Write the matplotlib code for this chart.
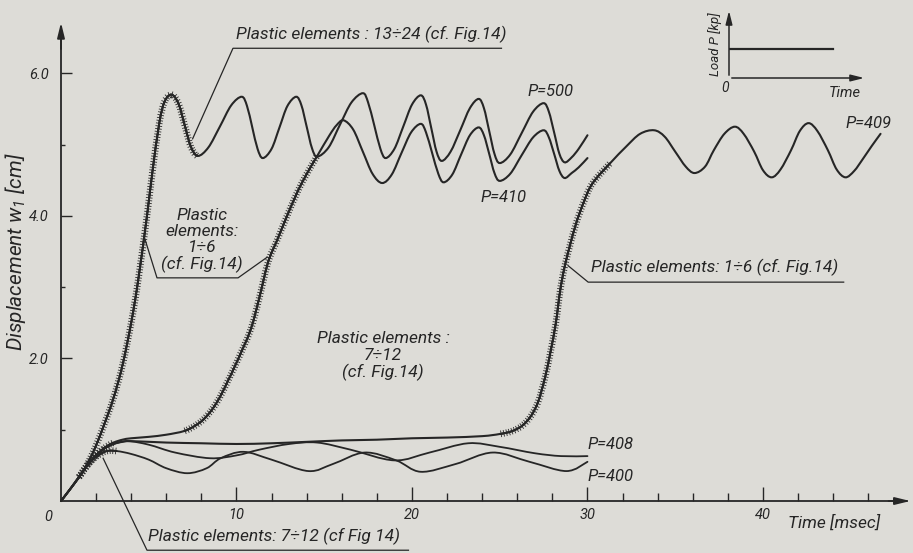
import matplotlib
matplotlib.use("Agg")
import matplotlib.pyplot as plt
import matplotlib.patheffects as pe
from matplotlib.path import Path
from matplotlib.patches import PathPatch
import numpy as np

plt.rcParams['font.family'] = ['Roboto', 'DejaVu Sans']
plt.rcParams['font.style'] = 'italic'
plt.rcParams['mathtext.fontset'] = 'custom'
plt.rcParams['mathtext.it'] = 'Roboto:italic'
plt.rcParams['mathtext.rm'] = 'Roboto'

########## data: time [msec], displacement w1 [cm] ##########

t500 = [0, 0.5, 1, 1.5, 2, 2.5, 3, 3.5, 4, 4.4, 4.9, 5.2, 5.6, 5.9, 6.3,
        6.7, 7.05, 7.4, 7.8, 8.4, 9.05, 9.7, 10.3, 10.6, 10.9, 11.2, 11.5,
        12.0, 12.45, 12.9, 13.4, 13.7, 14.0, 14.3, 14.6, 15.25, 15.9, 16.55, 17.2,
        17.5, 17.85, 18.2, 18.5, 19.0, 19.5, 20.0, 20.5, 20.8, 21.1, 21.4, 21.7,
        22.2, 22.75, 23.3, 23.8, 24.1, 24.4, 24.7, 25.0, 25.6, 26.25, 26.9, 27.5,
        27.8, 28.1, 28.4, 28.7, 29.1, 29.5, 30.0]
w500 = [0, 0.16, 0.33, 0.52, 0.78, 1.1, 1.45, 1.9, 2.5, 3.1, 4.0, 4.6, 5.3, 5.6, 5.7,
        5.57, 5.27, 4.97, 4.84, 4.96, 5.25, 5.55, 5.67, 5.54, 5.24, 4.94, 4.81,
        4.94, 5.24, 5.54, 5.67, 5.55, 5.25, 4.95, 4.83, 4.96, 5.28, 5.59, 5.72,
        5.59, 5.27, 4.94, 4.81, 4.94, 5.25, 5.56, 5.69, 5.56, 5.23, 4.9, 4.77,
        4.9, 5.2, 5.51, 5.64, 5.51, 5.19, 4.87, 4.74, 4.86, 5.16, 5.46, 5.58,
        5.46, 5.17, 4.87, 4.75, 4.82, 4.94, 5.13]

t410 = [0, 0.5, 1, 1.5, 2, 2.5, 3, 3.5, 4, 5, 6, 7, 7.6, 8.1, 8.6, 9.06, 9.5,
        10.0, 10.8, 11.3, 11.8, 12.3, 12.8, 13.5, 14.1, 14.6, 15.3, 15.7, 16.1,
        16.65, 17.2, 17.75, 18.3, 18.85, 19.4, 19.95, 20.5, 20.8, 21.15, 21.5, 21.8,
        22.3, 22.8, 23.3, 23.8, 24.1, 24.4, 24.7, 25.0, 25.6, 26.25, 26.9, 27.5,
        27.8, 28.1, 28.4, 28.7, 29.1, 29.5, 30.0]
w410 = [0, 0.16, 0.33, 0.5, 0.64, 0.75, 0.82, 0.86, 0.88, 0.9, 0.93, 0.98, 1.05, 1.14, 1.28, 1.46, 1.68,
        1.94, 2.4, 2.85, 3.35, 3.65, 3.95, 4.35, 4.63, 4.84, 5.13, 5.27, 5.34,
        5.21, 4.9, 4.59, 4.46, 4.58, 4.88, 5.17, 5.29, 5.17, 4.88, 4.59, 4.47,
        4.58, 4.86, 5.13, 5.24, 5.13, 4.87, 4.6, 4.49, 4.59, 4.85, 5.1, 5.2,
        5.1, 4.87, 4.63, 4.53, 4.6, 4.68, 4.81]

t409 = [0, 0.5, 1, 1.5, 2, 2.5, 3, 3.5, 4, 6, 8, 10, 12, 14, 16, 18, 20, 22, 24,
        25, 25.7, 26.3, 26.8, 27.2, 27.6, 27.9, 28.2, 28.45, 28.75, 29.3, 29.8, 30.3,
        31.3, 32.2, 33.0, 33.8, 34.4, 35.0, 35.6, 36.1, 36.7, 37.2, 37.8, 38.4,
        38.9, 39.5, 40.0, 40.5, 41.0, 41.6, 42.1, 42.6, 43.1, 43.7, 44.2, 44.7,
        45.2, 45.7, 46.2, 46.7]
w409 = [0, 0.16, 0.33, 0.5, 0.64, 0.74, 0.8, 0.83, 0.84, 0.82, 0.81, 0.8, 0.81, 0.83, 0.85, 0.86, 0.88, 0.89, 0.91,
        0.94, 0.98, 1.06, 1.2, 1.4, 1.75, 2.1, 2.5, 2.96, 3.34, 3.85, 4.2, 4.46,
        4.74, 4.97, 5.15, 5.2, 5.11, 4.9, 4.69, 4.6, 4.69, 4.92, 5.15, 5.25,
        5.15, 4.9, 4.64, 4.54, 4.65, 4.92, 5.19, 5.3, 5.19, 4.92, 4.65, 4.54,
        4.63, 4.8, 4.98, 5.15]

t408 = [0, 0.5, 1, 1.5, 2, 2.5, 3, 3.8, 5, 6.5, 8.5, 10, 11.3, 13, 14.6, 16.5, 19,
        21, 23.2, 25, 27, 28.5, 30]
w408 = [0, 0.16, 0.32, 0.5, 0.64, 0.74, 0.8, 0.84, 0.79, 0.68, 0.6, 0.64, 0.72, 0.8, 0.82, 0.72, 0.57,
        0.68, 0.81, 0.76, 0.67, 0.63, 0.63]

t400 = [0, 0.5, 1, 1.5, 2, 2.6, 3.2, 4, 5, 6, 7.2, 8.3, 9.1, 10.4, 12, 14.1, 15.5, 17.3,
        19.1, 20.5, 22.5, 24.6, 26.7, 28.8, 30]
w400 = [0, 0.16, 0.32, 0.5, 0.62, 0.7, 0.7, 0.66, 0.58, 0.46, 0.39, 0.46, 0.6, 0.69, 0.58, 0.42, 0.52, 0.68,
        0.57, 0.41, 0.52, 0.68, 0.55, 0.42, 0.55]

# inset: constant load
load_t = [0, 0.75]
load_p = [1, 1]

ink = '#262626'
paper = '#dddcd7'


# draw the read points as a smooth pen line (Catmull-Rom as cubic Bezier segments)
def pen_path(t, w, a=0, b=None):
    p = np.column_stack([t, w]).astype(float)
    n = len(p)
    if b is None:
        b = n - 1
    verts = [p[a]]
    codes = [Path.MOVETO]
    for i in range(a, b):
        p0 = p[max(i - 1, 0)]
        p1 = p[i]
        p2 = p[i + 1]
        p3 = p[min(i + 2, n - 1)]
        verts += [p1 + (p2 - p0) / 6, p2 - (p3 - p1) / 6, p2]
        codes += [Path.CURVE4] * 3
    return Path(verts, codes)


fig = plt.figure(figsize=(9.13, 5.53), dpi=100, facecolor=paper)
ax = fig.add_axes([0, 0, 1, 1], facecolor=paper)
ax.set_xlim(-3.476, 48.55)
ax.set_ylim(-0.729, 7.027)

# axes through the origin, ticks pointing inwards
for s in ['top', 'right']:
    ax.spines[s].set_visible(False)
ax.spines['left'].set_position(('data', 0))
ax.spines['bottom'].set_position(('data', 0))
ax.spines['left'].set_bounds(0, 6.6)
ax.spines['bottom'].set_bounds(0, 48.2)
for s in ['left', 'bottom']:
    ax.spines[s].set_color(ink)
    ax.spines[s].set_linewidth(1.3)
ax.annotate('', xy=(48.55, 0), xytext=(47.0, 0),
            arrowprops=dict(arrowstyle='-|>,head_length=0.9,head_width=0.22', color=ink, lw=1.3))
ax.annotate('', xy=(0, 6.75), xytext=(0, 6.3),
            arrowprops=dict(arrowstyle='-|>,head_length=0.9,head_width=0.22', color=ink, lw=1.3))

ax.set_xticks([10, 20, 30, 40])
ax.set_xticks([t for t in range(2, 48, 2) if t % 10], minor=True)
ax.set_yticks([2, 4, 6])
ax.set_yticklabels(['2.0', '4.0', '6.0'])
ax.set_yticks([1, 3, 5], minor=True)
ax.tick_params(axis='x', which='major', direction='in', length=10, width=1, colors=ink, pad=5, labelsize=10.5)
ax.tick_params(axis='x', which='minor', direction='in', length=6, width=1, colors=ink)
ax.tick_params(axis='y', which='major', direction='in', length=8, width=1, colors=ink, pad=9, labelsize=10.5)
ax.tick_params(axis='y', which='minor', direction='in', length=3, width=1, colors=ink)

ax.text(-0.75, -0.22, '0', fontsize=10.5, color=ink, ha='center', va='center')
ax.text(41.4, -0.31, 'Time [msec]', fontsize=12.5, color=ink, va='center')
ax.text(-2.62, 3.5, 'Displacement $w_1$ [cm]', fontsize=15, color=ink,
        rotation=90, ha='center', va='center')

# curves; "+" ticks mark the stretches where elements are plastic
crosses = [pe.withTickedStroke(angle=90, spacing=2.0, length=1.2, linewidth=0.6),
           pe.withTickedStroke(angle=-90, spacing=2.0, length=1.2, linewidth=0.6)]
lw = 1.5
for t, w, width in [(t500, w500, lw), (t410, w410, lw), (t409, w409, lw),
                    (t408, w408, 1.3), (t400, w400, 1.3)]:
    ax.add_patch(PathPatch(pen_path(t, w), fill=False, ec=ink, lw=width, capstyle='round'))

for t, w, a, b in [(t500, w500, 2, 18), (t410, w410, 2, 6), (t410, w410, 11, 25),
                   (t409, w409, 19, 32), (t400, w400, 3, 6), (t408, w408, 2, 5)]:
    ax.add_patch(PathPatch(pen_path(t, w, a, b), fill=False, ec=ink, lw=1.2,
                           path_effects=crosses))

# curve labels
lab = dict(fontsize=12, color=ink)
ax.text(26.6, 5.74, 'P=500', va='center', **lab)
ax.text(23.9, 4.26, 'P=410', va='center', **lab)
ax.text(44.7, 5.29, 'P=409', va='center', **lab)
ax.text(30.0, 0.79, 'P=408', va='center', **lab)
ax.text(30.0, 0.34, 'P=400', va='center', **lab)

# plastic zone notes with leader lines
note = dict(fontsize=12.5, color=ink)
lead = dict(color=ink, lw=0.9)
ax.text(10.0, 6.55, 'Plastic elements : 13÷24 (cf. Fig.14)', va='center', **note)
ax.plot([7.5, 9.8, 25.1], [5.08, 6.35, 6.35], **lead)

ax.text(8.05, 3.65, 'Plastic\nelements:\n1÷6\n(cf. Fig.14)', ha='center', va='center',
        linespacing=1.08, **note)
ax.plot([4.75, 5.47, 10.09, 11.75], [3.7, 3.13, 3.13, 3.42], **lead)

ax.text(18.35, 2.03, 'Plastic elements :\n7÷12\n(cf. Fig.14)', ha='center', va='center',
        linespacing=1.1, **note)

ax.text(30.2, 3.28, 'Plastic elements: 1÷6 (cf. Fig.14)', va='center', **note)
ax.plot([28.9, 30.04, 44.6], [3.3, 3.07, 3.07], **lead)

ax.text(4.96, -0.50, 'Plastic elements: 7÷12 (cf Fig 14)', va='center', **note)
ax.plot([2.4, 4.9, 19.8], [0.6, -0.69, -0.69], **lead)

# inset: load history
ins = fig.add_axes([729 / 913, (553 - 78) / 553, 138 / 913, 70 / 553], facecolor='none')
ins.set_xlim(0, 1)
ins.set_ylim(0, 2.4)
ins.plot(load_t, load_p, color=ink, lw=1.6)
for s in ['top', 'right', 'left', 'bottom']:
    ins.spines[s].set_visible(False)
ins.annotate('', xy=(1, 0), xytext=(0, 0),
             arrowprops=dict(arrowstyle='-|>,head_length=0.8,head_width=0.2', color=ink, lw=1.1))
ins.annotate('', xy=(0, 2.4), xytext=(0, 0),
             arrowprops=dict(arrowstyle='-|>,head_length=0.8,head_width=0.2', color=ink, lw=1.1))
ins.set_xticks([])
ins.set_yticks([])
ins.text(-0.03, -0.35, '0', fontsize=10, color=ink, ha='center', va='center')
ins.text(0.84, -0.5, 'Time', fontsize=10.5, color=ink, ha='center', va='center')
ins.text(-0.1, 1.15, 'Load P [kp]', fontsize=9.5, color=ink, rotation=90, ha='center', va='center')

fig.savefig('out.png', dpi=100, facecolor=paper)
